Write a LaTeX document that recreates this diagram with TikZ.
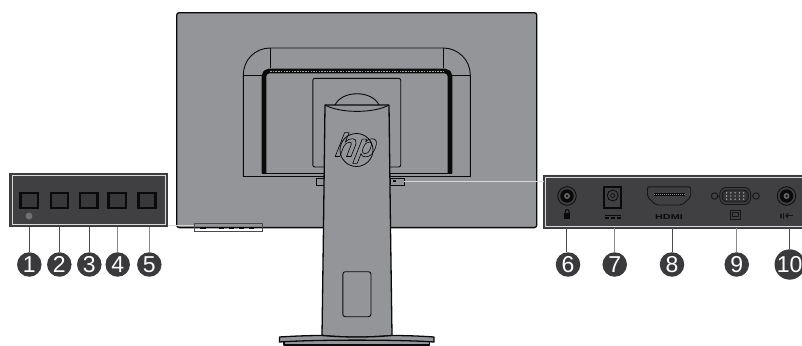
\documentclass[tikz,border=0pt]{standalone}
\usepackage{fontspec}
\setmainfont{Liberation Sans}
\definecolor{body}{HTML}{939598}
\definecolor{panel}{HTML}{404042}
\definecolor{rim}{HTML}{D8D8D8}
\definecolor{callout}{HTML}{3A3A3C}
\definecolor{ink}{HTML}{0A0A0A}
\definecolor{soft}{HTML}{161618}
\definecolor{lead}{HTML}{4A4A4C}
\definecolor{leadlight}{HTML}{8C8C8E}
\tikzset{
  x=1pt,y=-1pt,
  every node/.style={inner sep=0pt,outer sep=0pt},
  part/.style={draw=ink,line width=1.3pt,fill=body,line join=round},
  fine/.style={draw=ink,line width=.9pt},
  num/.style={circle,fill=callout,minimum size=24.5pt,text=white,font=\fontsize{23}{23}\selectfont},
  leader/.style={draw=lead,line width=1pt},
  leaderlight/.style={draw=leadlight,line width=1pt},
  key/.style={draw=ink,line width=2.2pt,fill=panel!88!black,minimum width=17.5pt,minimum height=15pt},
  jack/.style={circle,draw=ink,line width=.8pt,fill=panel},
  callline/.style={draw=rim,line width=1.4pt},
}
\begin{document}
\begin{tikzpicture}
\useasboundingbox (0,0) rectangle (802,345);
\fill[white] (0,0) rectangle (802,345);
% ---- monitor
\draw[part,rounded corners=2.5pt] (176.7,12.7) rectangle (536.8,227.6);
% hump
\draw[fine] (243.3,176.5) -- (243.3,75) .. controls (243.3,60) and (255,48) .. (270.3,48) -- (443.3,48)
  .. controls (458,48) and (470.3,60) .. (470.3,75) -- (470.3,176.5) -- cycle;
\draw[fine] (270.3,48) -- (270.3,68) (443.3,48) -- (443.3,68);
\draw[fine,line width=.6pt] (243.3,75) -- (262,75) (452,75) -- (470.3,75);
\draw[fine,line width=.6pt] (262,173) -- (452,173);
\draw[ink,line width=4.6pt,line join=round,rounded corners=5pt] (264,173) -- (264,71) -- (450,71) -- (450,173);
\draw[body!85!white,line width=1.1pt,dash pattern=on 1.5pt off 1.2pt] (270,71.2) -- (444,71.2);
% hinge plate
\draw[fine,rounded corners=2pt] (312.8,167) -- (312.8,78.3) -- (400.7,78.3) -- (400.7,167) -- cycle;
\draw[fine] (335,105) .. controls (342,90) and (372,90) .. (379,105);
% side tabs
\node[draw=ink,line width=.6pt,minimum width=7.3pt,minimum height=7.2pt] (tabL) at (320.3,181.4) {};
\node[draw=ink,line width=.6pt,minimum width=14pt,minimum height=7.2pt] (tabR) at (397,181.4) {};
\fill[ink] (392.5,180.2) rectangle (395.5,182.4);
% stand
\draw[part] (325,105) -- (389,105) -- (390.5,227.6) -- (392,335.5)
  .. controls (370,337.5) and (344,337.5) .. (322,335.5) -- (323.5,227.6) -- cycle;
\draw[fine] (325,105) .. controls (340,113.5) and (374,113.5) .. (389,105);
\draw[fine,rounded corners=2.5pt] (342.8,271.7) rectangle (371,316.7);
% logo
\node[circle,draw=ink,line width=.8pt,minimum size=33pt] (logo) at (356.5,150) {};
\node[font=\fontsize{33}{33}\selectfont\bfseries\itshape,xslant=.2] (hplogo) at (356.5,148)
  {\special{pdf:code q 1 Tr 0.6 w}hp\special{pdf:code Q}};
% base
\draw[part] (284,341) -- (284,345) -- (429.5,345) -- (429.5,341);
\draw[part] (279.5,337) .. controls (295,336) and (310,335.5) .. (322,335.5)
  .. controls (344,337.5) and (370,337.5) .. (392,335.5)
  .. controls (405,335.5) and (420,336) .. (434,337) -- (434,342)
  .. controls (400,339.5) and (314,339.5) .. (279.5,342) -- cycle;
% button strip on the monitor edge
\fill[white] (194.3,228.6) rectangle (262.7,231.4);
\foreach \a/\b in {200/206,219/224,229/234,239/244,249/254}
  \fill[ink] (\a,227.2) rectangle (\b,229.4);
\node[draw=lead,line width=.6pt,minimum width=68.4pt,minimum height=8.4pt] (strip) at (228.5,227.5) {};
% ---- left panel
\node[draw=callout,line width=1pt,fill=panel,minimum width=157.7pt,minimum height=53.4pt] (left) at (88.8,200) {};
\node[draw=rim,line width=.8pt,minimum width=153.6pt,minimum height=49.4pt] (leftrim) at (88.8,200) {};
\coordinate (la) at (left.east |- 0,225);
\draw[callline,line width=1pt] (la) -- (strip.west |- la);
\node[key] (k1) at (29.3,200.5) {};
\node[key] (k2) at (59.5,200.5) {};
\node[key] (k3) at (88.7,200.5) {};
\node[key] (k4) at (117.3,200.5) {};
\node[key,line width=2.8pt] (k5) at (147,200.5) {};
\node[circle,fill=body!75!black,minimum size=7pt] (pw) at (29,216) {};
\node[num] (n1) at (29.3,264.5) {1};
\node[num] (n2) at (59.3,264.5) {2};
\node[num] (n3) at (89.3,264.5) {3};
\node[num] (n4) at (117.7,264.5) {4};
\node[num] (n5) at (149.3,264.5) {5};
\draw[leader] (left.south -| n1) -- (n1);
\draw[leader] (left.south -| n2) -- (n2);
\draw[leader] (left.south -| n3) -- (n3);
\draw[leaderlight] (left.south -| n4) -- (n4);
\draw[leaderlight] (left.south -| n5) -- (n5);
% ---- right panel (runs off the right edge)
\coordinate (rtl) at (543.5,175.8);
\coordinate (rbr) at (802,228.2);
\fill[panel] (rtl) rectangle (rbr);
\draw[callout,line width=1pt] (802,175.8) -- (rtl) |- (rbr);
\draw[rim,line width=.8pt] (802,177.8) -- (545.6,177.8) -- (545.6,226.2) -- (802,226.2);
\draw[callline] (tabR.east) -- (rtl |- tabR.east);
% port 6
\node[jack,minimum size=18.5pt] (p6) at (567,196) {};
\node[circle,fill=ink,minimum size=13.5pt] (p6a) at (p6) {};
\node[circle,fill=panel!80!white,minimum size=6pt] (p6b) at (p6) {};
\node[circle,fill=ink,minimum size=2.5pt] at (p6) {};
\fill[ink] (563.8,213.2) rectangle (570.4,218.6);
\draw[ink,line width=1pt] (565.2,213.4) -- (565.2,211.8) .. controls (565.2,208.8) and (569,208.8) .. (569,211.8) -- (569,213.4);
% port 7
\node[draw=ink,line width=2pt,fill=panel,minimum width=17.5pt,minimum height=20.5pt] (p7) at (612.7,197.5) {};
\node[circle,draw=ink,line width=.8pt,minimum size=11pt] (p7c) at (612.7,195.5) {};
\node[circle,draw=ink,line width=.6pt,minimum size=4pt] at (p7c) {};
\draw[ink,line width=1.3pt] (605,215.3) -- (621,215.3);
\draw[ink,line width=1.3pt,dash pattern=on 4pt off 2pt] (605,218) -- (621,218);
% port 8
\draw[soft,line width=.9pt,fill=panel,rounded corners=2pt] (647.5,186.8) -- (690.7,186.8) -- (690.7,197) -- (682,205) -- (656,205) -- (647.5,197) -- cycle;
\draw[ink,line width=2.6pt] (653.5,194.5) -- (685,194.5);
\draw[panel!60!white,line width=.7pt,dash pattern=on 1pt off 1pt] (654,194.5) -- (684.5,194.5);
\node[text=ink,font=\fontsize{7}{7}\selectfont\bfseries,xscale=1.55] (hdmi) at (669,217) {HDMI};
% port 9
\draw[soft,line width=.9pt,rounded corners=4pt] (721.5,187.5) -- (749,187.5) -- (751.5,196) -- (749,204.5) -- (721.5,204.5) -- (719,196) -- cycle;
\draw[soft,line width=.8pt,fill=panel!80!black,rounded corners=3pt] (723.5,190) -- (747,190) -- (749,196) -- (747,202) -- (723.5,202) -- (721.5,196) -- cycle;
\foreach \i in {0,...,4} {
  \fill[panel!45!white] (726.5+\i*4.3,192.8) circle (.8);
  \fill[panel!45!white] (726.5+\i*4.3,196) circle (.8);
  \fill[panel!45!white] (726.5+\i*4.3,199.2) circle (.8);
}
\node[circle,draw=soft,line width=.9pt,minimum size=6.5pt] (s1) at (714.5,196) {};
\node[circle,draw=soft,line width=.9pt,minimum size=6.5pt] (s2) at (756,196) {};
\draw[soft,line width=.8pt] (s1.east) -- (719,196) (s2.west) -- (751.5,196);
\node[draw=soft,line width=.7pt,minimum width=10pt,minimum height=8.5pt] (vg) at (735,215) {};
\node[draw=soft,line width=.5pt,minimum width=6pt,minimum height=4pt] at (735,214.5) {};
% port 10
\node[jack,minimum size=18.5pt] (p10) at (786.5,196) {};
\node[circle,fill=ink,minimum size=13.5pt] at (p10) {};
\node[circle,fill=panel!80!white,minimum size=6pt] at (p10) {};
\node[circle,fill=ink,minimum size=2.5pt] at (p10) {};
\draw[soft,line width=1.1pt] (781,213.5) -- (781,218) (783.5,213) -- (783.5,218.5);
\fill[soft] (785,215.8) -- (788,213) -- (788,218.5) -- cycle;
\draw[soft,line width=.9pt] (788,215.8) -- (792.5,215.8);
% right callouts
\node[num] (n6) at (568,264.5) {6};
\node[num] (n7) at (614.7,264.5) {7};
\node[num] (n8) at (672,264.5) {8};
\node[num] (n9) at (736.7,264.5) {9};
\node[num] (n10) at (789.7,264.5) {10};
\coordinate (l6) at (566,228.2);
\draw[leader] (l6) -- (l6 |- n6.north);
\draw[leaderlight] (rbr -| n7) -- (n7);
\draw[leader] (rbr -| n8) -- (n8);
\draw[leaderlight] (rbr -| n9) -- (n9);
\draw[leader] (rbr -| n10) -- (n10);
\end{tikzpicture}
\end{document}
